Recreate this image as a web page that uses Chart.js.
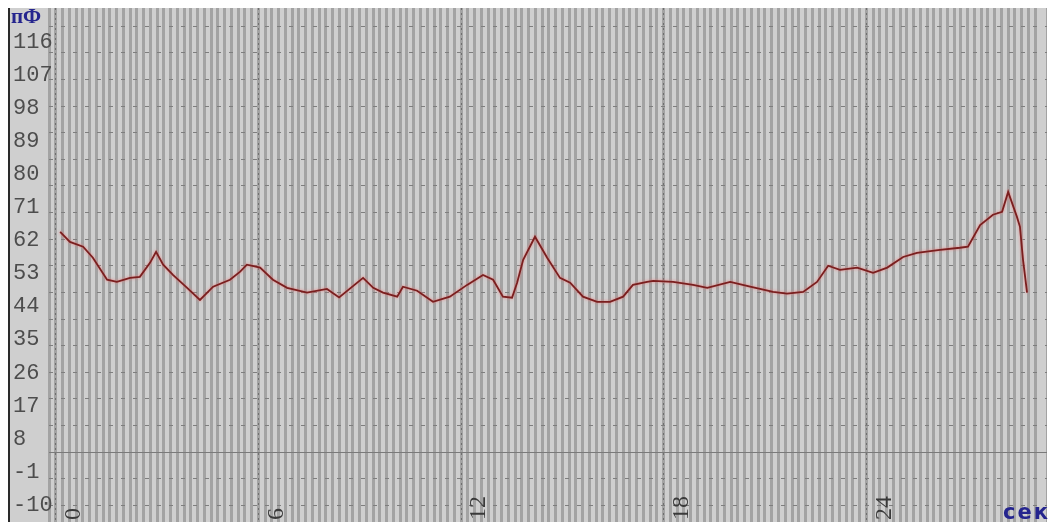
<!DOCTYPE html>
<html><head><meta charset="utf-8">
<script src="https://cdn.jsdelivr.net/npm/chart.js@4/dist/chart.umd.min.js"></script>
<style>
html,body{margin:0;padding:0;background:#fff;width:1058px;height:526px;overflow:hidden;}
#box{position:absolute;left:8px;top:8px;width:1037px;height:514px;border-left:2px solid #2a2a2a;background:#cfcfcf;}
#box canvas{display:block;}
.unit{position:absolute;color:#25258e;font-weight:bold;white-space:nowrap;}
#uy{left:11px;top:4px;font:bold 21px "Liberation Serif";}
#ux{left:1003px;top:500px;font:bold 21px "DejaVu Sans";letter-spacing:2px;}
</style></head><body>
<div id="box"><canvas id="c" width="1037" height="514"></canvas></div>
<div id="uy" class="unit">пФ</div>
<div id="ux" class="unit">сек</div>
<script>
const timeSec = [0.13,0.42,0.81,1.10,1.52,1.81,2.20,2.49,2.79,2.97,3.18,3.47,3.89,4.27,4.66,5.16,5.46,5.66,6.05,6.43,6.85,7.44,8.03,8.39,9.10,9.40,9.69,10.11,10.28,10.70,11.17,11.67,12.18,12.65,12.95,13.24,13.51,13.66,13.84,14.19,14.55,14.93,15.23,15.61,16.03,16.41,16.80,17.09,17.51,17.69,18.28,18.87,19.29,19.97,20.56,21.24,21.65,22.13,22.54,22.87,23.22,23.73,24.20,24.62,25.09,25.50,26.18,26.77,27.01,27.37,27.75,28.02,28.20,28.46,28.55,28.64,28.76];
const capacitancePf = [64.3,61.6,60.3,57.3,51.3,50.7,51.8,52.1,55.9,58.9,55.4,52.6,49.1,45.8,49.4,51.3,53.5,55.4,54.6,51.3,49.1,47.8,48.8,46.5,51.8,49.1,47.8,46.7,49.4,48.3,45.3,46.7,49.9,52.6,51.3,46.7,46.4,50.5,56.7,63.0,57.3,51.8,50.5,46.7,45.3,45.3,46.7,49.9,50.7,51.0,50.7,49.9,49.1,50.7,49.4,48.0,47.5,48.0,50.7,55.1,54.0,54.6,53.2,54.6,57.5,58.6,59.4,60.0,60.3,66.2,69.0,69.8,75.2,68.4,65.7,56.7,47.8];
const yTickValues = [-10,-1,8,17,26,35,44,53,62,71,80,89,98,107,116,125];
const xTickValues = [0,6,12,18,24];
const hGridSteps = [-2,-1,0,1,2,3,4,5,6,7,8,9,10,11,12,13,14,15,16];
const hGridSolid = [0];

const points = timeSec.map((t,i)=>({x:t,y:capacitancePf[i]}));
const X_MIN=-0.2, X_MAX=29.35;

const glow = {
  id:'glow',
  beforeDatasetDraw(chart){const c=chart.ctx;c.save();c.shadowColor='rgba(235,120,120,0.9)';c.shadowBlur=3;},
  afterDatasetDraw(chart){chart.ctx.restore();}
};
const flatX = (s)=>{s.height=0;s.paddingLeft=0;s.paddingRight=0;s.paddingTop=0;s.paddingBottom=0;};
const flatY = (w)=>(s)=>{s.width=w;s.paddingLeft=0;s.paddingRight=0;s.paddingTop=0;s.paddingBottom=0;};

new Chart(document.getElementById('c'),{
  type:'line',
  data:{datasets:[{data:points,borderColor:'#7a1f1f',borderWidth:1.8,pointRadius:0,tension:0,fill:false}]},
  options:{
    responsive:false,animation:false,
    layout:{padding:{left:3,top:0,right:0,bottom:0}},
    plugins:{legend:{display:false},tooltip:{enabled:false}},
    scales:{
      x:{type:'linear',position:'bottom',min:X_MIN,max:X_MAX,
        grid:{color:'#a3a3a3',lineWidth:3,drawTicks:false},
        border:{display:false},
        ticks:{stepSize:0.2,autoSkip:false,minRotation:90,maxRotation:90,mirror:true,labelOffset:46.8,padding:26,
          color:'#3a3a3a',font:{family:'Liberation Serif',size:24},
          callback:(v)=>{const r=Math.round(v);return (Math.abs(v-r)<1e-6 && xTickValues.includes(r)) ? (String(r).length===1? r+'\u2007': String(r)) : '';}},
        afterFit:flatX
      },
      xMajor:{type:'linear',position:'bottom',min:X_MIN,max:X_MAX,
        grid:{color:'#6f6f6f',lineWidth:1,drawTicks:false},
        border:{display:false,dash:[2,3]},
        ticks:{display:false},
        afterBuildTicks:(s)=>{s.ticks=xTickValues.map(v=>({value:v}));},
        afterFit:flatX
      },
      y:{type:'linear',position:'left',min:-14.63,max:125.25,
        grid:{display:false,drawTicks:false},
        border:{display:false},
        ticks:{mirror:true,crossAlign:'near',padding:-36,color:'#4d4d4d',font:{family:'Liberation Mono',size:22},
          callback:(v)=> v===125 ? '' : String(v)},
        afterBuildTicks:(s)=>{s.ticks=yTickValues.map(v=>({value:v}));},
        afterFit:flatY(36)
      },
      yGrid:{type:'linear',position:'right',min:-2.63,max:16.69,
        grid:{color:'#7e7e7e',lineWidth:1,drawTicks:false},
        border:{display:false,dash:[4,8]},
        ticks:{display:false},
        afterBuildTicks:(s)=>{s.ticks=hGridSteps.map(v=>({value:v}));},
        afterFit:flatY(0)
      },
      yBase:{type:'linear',position:'right',min:-2.63,max:16.69,
        grid:{color:'#7a7a7a',lineWidth:1,drawTicks:false},
        border:{display:false},
        ticks:{display:false},
        afterBuildTicks:(s)=>{s.ticks=hGridSolid.map(v=>({value:v}));},
        afterFit:flatY(0)
      }
    }
  },
  plugins:[glow]
});
</script>
</body></html>
